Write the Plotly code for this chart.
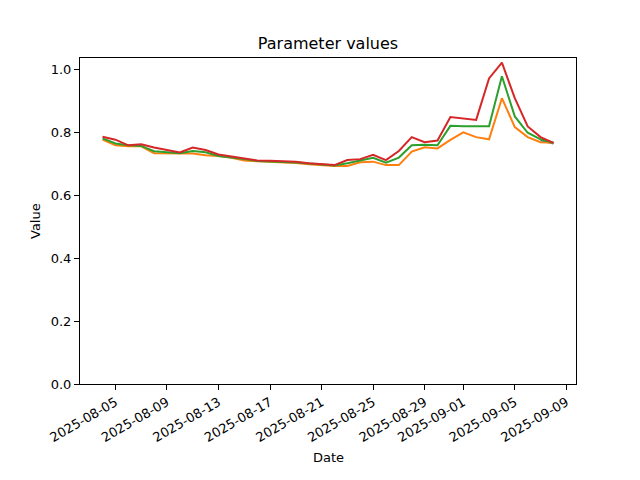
import plotly.graph_objects as go
import pandas as pd

dates = pd.date_range("2025-08-04", "2025-09-08", freq="D")

red = [0.787, 0.778, 0.760, 0.763, 0.753, 0.744, 0.737, 0.753, 0.745, 0.731, 0.725, 0.718,
       0.712, 0.711, 0.709, 0.708, 0.703, 0.700, 0.697, 0.713, 0.716, 0.730, 0.713, 0.742,
       0.786, 0.770, 0.775, 0.850, 0.845, 0.841, 0.973, 1.023, 0.910, 0.820, 0.786, 0.768]
green = [0.782, 0.766, 0.760, 0.758, 0.741, 0.737, 0.735, 0.742, 0.738, 0.726, 0.722, 0.716,
         0.710, 0.709, 0.707, 0.705, 0.702, 0.698, 0.696, 0.703, 0.711, 0.720, 0.705, 0.721,
         0.760, 0.762, 0.760, 0.822, 0.821, 0.820, 0.821, 0.980, 0.852, 0.800, 0.779, 0.768]
orange = [0.778, 0.760, 0.757, 0.757, 0.735, 0.735, 0.733, 0.734, 0.728, 0.726, 0.720, 0.712,
          0.709, 0.708, 0.706, 0.704, 0.700, 0.696, 0.694, 0.694, 0.706, 0.708, 0.697, 0.697,
          0.740, 0.754, 0.750, 0.777, 0.801, 0.786, 0.779, 0.910, 0.818, 0.786, 0.770, 0.768]
blue_dates = dates[-2:]
blue = [0.776, 0.766]

tick_dates = ["2025-08-05", "2025-08-09", "2025-08-13", "2025-08-17", "2025-08-21",
              "2025-08-25", "2025-08-29", "2025-09-01", "2025-09-05", "2025-09-09"]
y_ticks = [0.0, 0.2, 0.4, 0.6, 0.8, 1.0]

fig = go.Figure()
fig.add_trace(go.Scatter(x=blue_dates, y=blue, mode="lines", line=dict(color="#1f77b4", width=2)))
fig.add_trace(go.Scatter(x=dates, y=orange, mode="lines", line=dict(color="#ff7f0e", width=2)))
fig.add_trace(go.Scatter(x=dates, y=green, mode="lines", line=dict(color="#2ca02c", width=2)))
fig.add_trace(go.Scatter(x=dates, y=red, mode="lines", line=dict(color="#d62728", width=2)))

span = pd.Timedelta(days=1.75)
font = dict(family="DejaVu Sans", size=13, color="black")
fig.update_layout(
    width=640, height=480,
    margin=dict(l=80, r=64, t=58, b=96),
    paper_bgcolor="white", plot_bgcolor="white",
    showlegend=False,
    font=font,
    title=dict(text="Parameter values", x=0.5, xanchor="center", xref="paper",
               y=1 - 43 / 480, yanchor="middle", yref="container",
               font=dict(family="DejaVu Sans", size=16)),
    xaxis=dict(
        range=[dates[0] - span, dates[-1] + span],
        tickvals=tick_dates, ticktext=tick_dates, tickangle=-30,
        ticks="outside", ticklen=5, tickcolor="black",
        showline=True, linecolor="black", linewidth=1, mirror=True,
        showgrid=False, zeroline=False,
    ),
    yaxis=dict(
        range=[0, 1.038],
        tickvals=y_ticks, ticktext=[f"{v:.1f}" for v in y_ticks],
        ticks="outside", ticklen=5, tickcolor="black",
        showline=True, linecolor="black", linewidth=1, mirror=True,
        showgrid=False, zeroline=False,
    ),
    annotations=[
        dict(text="Date", xref="paper", yref="paper", x=0.5, y=(384 - 457) / 326,
             xanchor="center", yanchor="middle", showarrow=False, font=font),
        dict(text="Value", xref="paper", yref="paper", x=(35 - 80) / 496, y=(384 - 221) / 326,
             xanchor="center", yanchor="middle", textangle=-90, showarrow=False, font=font),
    ],
)
fig.write_html("out.html", config={"displayModeBar": False},
               post_script="document.body.style.margin='0';")
